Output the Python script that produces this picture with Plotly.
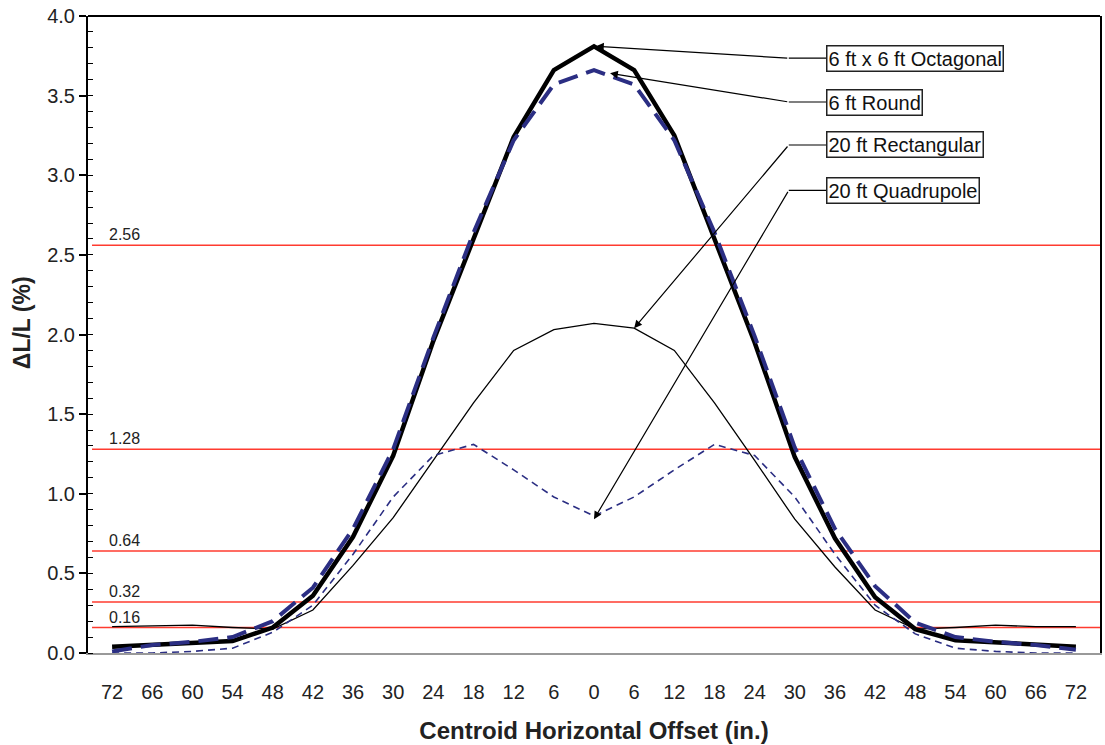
import plotly.graph_objects as go

# ---- data ----
offset_labels = ["72", "66", "60", "54", "48", "42", "36", "30", "24", "18", "12", "6", "0",
                 "6", "12", "18", "24", "30", "36", "42", "48", "54", "60", "66", "72"]
octagonal = [0.04, 0.05, 0.06, 0.075, 0.16, 0.36, 0.73, 1.24, 1.96, 2.60, 3.24, 3.66, 3.81,
             3.66, 3.25, 2.60, 1.95, 1.23, 0.72, 0.35, 0.15, 0.08, 0.065, 0.055, 0.04]
round6 = [0.01, 0.05, 0.07, 0.10, 0.20, 0.41, 0.78, 1.28, 1.98, 2.64, 3.22, 3.57, 3.66,
          3.57, 3.22, 2.64, 1.99, 1.29, 0.78, 0.42, 0.19, 0.10, 0.07, 0.05, 0.02]
rectangular = [0.165, 0.17, 0.175, 0.16, 0.15, 0.27, 0.55, 0.85, 1.21, 1.57, 1.90, 2.03, 2.07,
               2.04, 1.90, 1.57, 1.21, 0.84, 0.54, 0.27, 0.15, 0.16, 0.175, 0.165, 0.165]
quadrupole = [0.0, 0.0, 0.01, 0.03, 0.13, 0.30, 0.62, 0.98, 1.24, 1.31, 1.15, 0.98, 0.86,
              0.98, 1.15, 1.31, 1.24, 0.98, 0.62, 0.30, 0.12, 0.03, 0.01, 0.0, 0.0]
thresholds = [2.56, 1.28, 0.64, 0.32, 0.16]
threshold_labels = ["2.56", "1.28", "0.64", "0.32", "0.16"]

series_names = ["6 ft x 6 ft Octagonal", "6 ft Round", "20 ft Rectangular", "20 ft Quadrupole"]

x = list(range(len(offset_labels)))
NAVY = "#2B2E83"
FONT = "Liberation Sans, Arial, sans-serif"

fig = go.Figure()
fig.add_trace(go.Scatter(x=x, y=rectangular, mode="lines", name=series_names[2],
                         line=dict(color="black", width=1.3)))
fig.add_trace(go.Scatter(x=x, y=quadrupole, mode="lines", name=series_names[3],
                         line=dict(color=NAVY, width=1.6, dash="7px,5px")))
fig.add_trace(go.Scatter(x=x, y=octagonal, mode="lines", name=series_names[0],
                         line=dict(color="black", width=4.5)))
fig.add_trace(go.Scatter(x=x, y=round6, mode="lines", name=series_names[1],
                         line=dict(color=NAVY, width=4, dash="20px,9px")))

shapes = []
annotations = []
for v, lab in zip(thresholds, threshold_labels):
    shapes.append(dict(type="line", xref="x", yref="y", x0=-0.5, x1=24.6, y0=v, y1=v,
                       line=dict(color="#FF3B2F", width=1.5), layer="below"))
    annotations.append(dict(x=-0.12, y=v, xref="x", yref="y", text=lab, showarrow=False,
                            xanchor="left", yanchor="bottom", yshift=0,
                            font=dict(family=FONT, size=16, color="#222")))

# top border
shapes.append(dict(type="line", xref="paper", yref="paper", x0=0, x1=1, y0=1, y1=1,
                   line=dict(color="black", width=2)))

# callouts: (tip x, tip y, elbow x, label y)
box_x = 17.78
elbow_x = 16.85
tips = [(12.05, octagonal[12]), (12.4, 3.64), (13.0, rectangular[13]), (12.0, quadrupole[12] - 0.02)]
label_y = [3.735, 3.46, 3.19, 2.905]
for name, (tx, ty), ly in zip(series_names, tips, label_y):
    annotations.append(dict(x=tx, y=ty, ax=elbow_x, ay=ly, xref="x", yref="y",
                            axref="x", ayref="y", text="", showarrow=True,
                            arrowhead=2, arrowsize=1.3, arrowwidth=1.2, arrowcolor="black"))
    shapes.append(dict(type="line", xref="x", yref="y", x0=elbow_x, x1=box_x, y0=ly, y1=ly,
                       line=dict(color="black", width=1.2)))
    annotations.append(dict(x=box_x, y=ly, xref="x", yref="y", text=name, showarrow=False,
                            xanchor="left", yanchor="middle", bgcolor="white",
                            bordercolor="#222", borderwidth=1.5, borderpad=1,
                            font=dict(family=FONT, size=20, color="#111")))

# y-axis title as annotation for exact placement
annotations.append(dict(x=22, y=323, xref="paper", yref="paper", text="<b>ΔL/L (%)</b>",
                        showarrow=False, textangle=-90, xanchor="center", yanchor="middle",
                        font=dict(family=FONT, size=23, color="#222")))
annotations[-1].update(x=-(88 - 22) / 1014, y=(653 - 323) / 637)

fig.update_layout(
    width=1105, height=745,
    margin=dict(l=88, r=3, t=16, b=92),
    paper_bgcolor="white", plot_bgcolor="white",
    showlegend=False,
    font=dict(family=FONT, color="#222"),
    shapes=shapes, annotations=annotations,
    xaxis=dict(range=[-0.6, 24.6], tickmode="array", tickvals=x, ticktext=offset_labels,
               showgrid=False, zeroline=False, showline=True, linecolor="#999", linewidth=1.5,
               ticks="", ticklabelstandoff=20, tickfont=dict(family=FONT, size=20, color="#222"),
               title=dict(text="<b>Centroid Horizontal Offset (in.)</b>", standoff=20,
                          font=dict(family=FONT, size=24, color="#222"))),
    yaxis=dict(range=[0, 4.0], tickmode="linear", tick0=0, dtick=0.5, tickformat=".1f",
               showgrid=False, zeroline=False, showline=True, linecolor="black", linewidth=2,
               mirror=True, ticks="outside", ticklen=7, tickwidth=1.5, tickcolor="black",
               tickfont=dict(family=FONT, size=20, color="#222"),
               minor=dict(dtick=0.1, ticks="inside", ticklen=5, tickcolor="black", tickwidth=1)),
)

fig.write_html("out.html")
